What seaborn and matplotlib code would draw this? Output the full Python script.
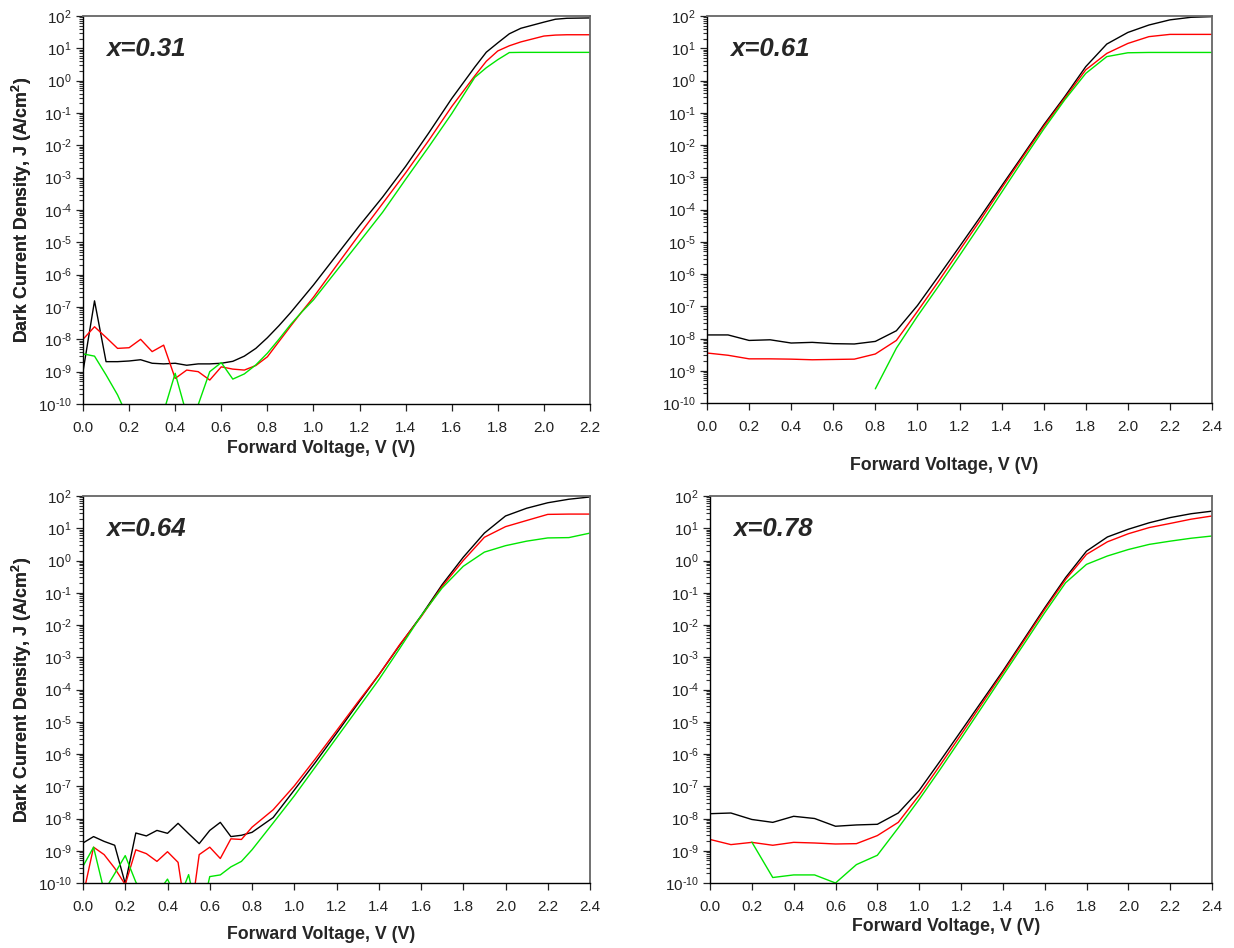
import numpy as np
import pandas as pd
import matplotlib
matplotlib.use("Agg")
import matplotlib.pyplot as plt
from matplotlib.ticker import LogLocator, NullFormatter, MultipleLocator, FormatStrFormatter, FuncFormatter
import seaborn as sns

# ---------------- data ----------------
# Panel x=0.31
V_031 = [0.00, 0.05, 0.10, 0.15, 0.20, 0.25, 0.30, 0.35, 0.40, 0.45, 0.50, 0.55, 0.60, 0.65,
         0.70, 0.75, 0.80, 0.85, 0.90, 0.95, 1.00, 1.10, 1.20, 1.30, 1.40, 1.50, 1.60, 1.70,
         1.75, 1.80, 1.85, 1.90, 2.00, 2.05, 2.10, 2.20]
J_031_black = [1.0e-9, 1.55e-7, 2.04e-9, 2.04e-9, 2.14e-9, 2.34e-9, 1.82e-9, 1.74e-9, 1.82e-9, 1.58e-9,
               1.74e-9, 1.74e-9, 1.82e-9, 2.09e-9, 3.02e-9, 5.25e-9, 1.12e-8, 2.63e-8, 6.61e-8, 1.78e-7,
               4.79e-7, 3.98e-6, 3.31e-5, 2.51e-4, 2.24e-3, 2.4e-2, 0.28, 2.63, 7.59, 14.8, 28.2, 41.7,
               64.6, 79.4, 85.1, 87.1]
J_031_red = [1.0e-8, 2.45e-8, 1.15e-8, 5.25e-9, 5.5e-9, 1.0e-8, 4.17e-9, 6.61e-9, 6.17e-10, 1.12e-9,
             1.0e-9, 5.5e-10, 1.41e-9, 1.2e-9, 1.12e-9, 1.55e-9, 2.88e-9, 8.51e-9, 2.51e-8, 7.24e-8,
             2.0e-7, 1.91e-6, 1.78e-5, 1.58e-4, 1.41e-3, 1.41e-2, 0.158, 1.41, 3.98, 8.32, 12.0, 15.8,
             24.0, 25.7, 26.3, 26.3]
J_031_green = [3.55e-9, 3.02e-9, 7.94e-10, 1.91e-10, 3.16e-11, 1.58e-11, 2.51e-11, 5.75e-11, 8.91e-10, 4.68e-11,
               9.55e-11, 1.0e-9, 1.91e-9, 5.89e-10, 8.51e-10, 1.62e-9, 3.72e-9, 1.0e-8, 2.82e-8, 7.08e-8,
               1.66e-7, 1.32e-6, 1.05e-5, 8.51e-5, 8.91e-4, 8.91e-3, 9.55e-2, 1.26, 2.51, 4.47, 7.41, 7.5,
               7.5, 7.5, 7.5, 7.5]

# Panel x=0.61
V_061 = [0.0, 0.1, 0.2, 0.3, 0.4, 0.5, 0.6, 0.7, 0.8, 0.9, 1.0, 1.1, 1.2, 1.3, 1.4, 1.5, 1.6,
         1.7, 1.8, 1.9, 2.0, 2.1, 2.2, 2.3, 2.4]
J_061_black = [1.29e-8, 1.29e-8, 8.71e-9, 9.12e-9, 7.24e-9, 7.59e-9, 6.92e-9, 6.76e-9, 8.13e-9, 1.74e-8,
               1.05e-7, 8.51e-7, 7.08e-6, 6.03e-5, 5.37e-4, 4.68e-3, 4.17e-2, 0.316, 2.69, 13.5, 30.9,
               52.5, 75.9, 91.2, 95.5]
J_061_red = [3.55e-9, 3.02e-9, 2.34e-9, 2.34e-9, 2.29e-9, 2.19e-9, 2.24e-9, 2.29e-9, 3.31e-9, 8.71e-9,
             6.92e-8, 5.89e-7, 5.37e-6, 4.79e-5, 4.57e-4, 4.17e-3, 3.72e-2, 0.282, 2.14, 6.92, 14.1,
             22.9, 26.9, 26.9, 26.9]
V_061_green = [0.8, 0.9, 1.0, 1.1, 1.2, 1.3, 1.4, 1.5, 1.6, 1.7, 1.8, 1.9, 2.0, 2.1, 2.2, 2.3, 2.4]
J_061_green = [2.75e-10, 5.01e-9, 4.9e-8, 4.17e-7, 3.72e-6, 3.47e-5, 3.39e-4, 3.31e-3, 3.09e-2, 0.251,
               1.66, 5.5, 7.24, 7.41, 7.41, 7.41, 7.41]

# Panel x=0.64
V_064 = [0.00, 0.05, 0.10, 0.15, 0.20, 0.25, 0.30, 0.35, 0.40, 0.45, 0.50, 0.55, 0.60, 0.65,
         0.70, 0.75, 0.80, 0.9, 1.0, 1.1, 1.2, 1.3, 1.4, 1.5, 1.6, 1.7, 1.8, 1.9, 2.0, 2.1,
         2.2, 2.3, 2.4]
J_064_black = [1.74e-9, 2.75e-9, 1.95e-9, 1.48e-9, 9.55e-11, 3.55e-9, 2.88e-9, 4.27e-9, 3.47e-9, 7.08e-9,
               3.39e-9, 1.66e-9, 4.27e-9, 7.59e-9, 2.75e-9, 3.02e-9, 3.72e-9, 1.07e-8, 7.59e-8, 5.5e-7,
               4.37e-6, 3.55e-5, 2.82e-4, 2.4e-3, 1.91e-2, 0.178, 1.26, 7.08, 24.0, 41.7, 61.7, 79.4, 93.3]
J_064_red = [3.98e-11, 1.29e-9, 7.59e-10, 2.88e-10, 8.91e-11, 1.07e-9, 8.13e-10, 4.68e-10, 9.33e-10, 4.37e-10,
             3.16e-12, 7.59e-10, 1.29e-9, 5.75e-10, 2.34e-9, 2.24e-9, 5.37e-9, 1.86e-8, 1.02e-7, 7.08e-7,
             5.25e-6, 3.98e-5, 2.82e-4, 2.51e-3, 1.78e-2, 0.158, 1.0, 5.25, 11.2, 17.4, 26.9, 27.5, 27.5]
J_064_green = [3.31e-10, 1.29e-9, 5.62e-11, 1.95e-10, 7.08e-10, 1.07e-10, 3.16e-11, 4.57e-11, 1.32e-10, 2.63e-11,
               1.82e-10, 5.37e-12, 1.58e-10, 1.78e-10, 3.16e-10, 4.68e-10, 1.07e-9, 7.24e-9, 5.01e-8, 3.98e-7,
               3.16e-6, 2.51e-5, 2.0e-4, 1.91e-3, 1.91e-2, 0.141, 0.661, 1.82, 2.88, 3.98, 5.01, 5.13, 7.08]

# Panel x=0.78
V_078 = [0.0, 0.1, 0.2, 0.3, 0.4, 0.5, 0.6, 0.7, 0.8, 0.9, 1.0, 1.1, 1.2, 1.3, 1.4, 1.5, 1.6,
         1.7, 1.8, 1.9, 2.0, 2.1, 2.2, 2.3, 2.4]
J_078_black = [1.41e-8, 1.48e-8, 9.33e-9, 7.59e-9, 1.17e-8, 1.0e-8, 5.75e-9, 6.31e-9, 6.61e-9, 1.48e-8,
               7.41e-8, 6.03e-7, 5.13e-6, 4.37e-5, 3.72e-4, 3.55e-3, 3.39e-2, 0.295, 1.95, 5.37, 9.33,
               14.8, 21.4, 28.2, 33.9]
J_078_red = [2.24e-9, 1.55e-9, 1.82e-9, 1.48e-9, 1.82e-9, 1.74e-9, 1.62e-9, 1.66e-9, 2.95e-9, 7.59e-9,
             5.25e-8, 4.47e-7, 3.98e-6, 3.63e-5, 3.31e-4, 3.16e-3, 3.02e-2, 0.257, 1.55, 3.8, 6.76,
             10.5, 14.1, 19.1, 24.0]
V_078_green = [0.2, 0.3, 0.4, 0.5, 0.6, 0.7, 0.8, 0.9, 1.0, 1.1, 1.2, 1.3, 1.4, 1.5, 1.6, 1.7, 1.8,
               1.9, 2.0, 2.1, 2.2, 2.3, 2.4]
J_078_green = [1.86e-9, 1.48e-10, 1.78e-10, 1.78e-10, 1.0e-10, 3.72e-10, 7.24e-10, 5.13e-9, 3.89e-8,
               3.31e-7, 3.02e-6, 2.82e-5, 2.69e-4, 2.51e-3, 2.4e-2, 0.204, 0.759, 1.38, 2.19, 3.16,
               3.98, 4.9, 5.75]

panel_labels = ["x=0.31", "x=0.61", "x=0.64", "x=0.78"]
x_max = [2.2, 2.4, 2.4, 2.4]
x_label = "Forward Voltage, V (V)"
y_label = r"Dark Current Density, J (A/cm$^{\mathbf{2}}$)"
series_colors = {"black": "#000000", "red": "#ff0000", "green": "#00e600"}

panels = [
    [(V_031, J_031_black, "black"), (V_031, J_031_red, "red"), (V_031, J_031_green, "green")],
    [(V_061, J_061_black, "black"), (V_061, J_061_red, "red"), (V_061_green, J_061_green, "green")],
    [(V_064, J_064_black, "black"), (V_064, J_064_red, "red"), (V_064, J_064_green, "green")],
    [(V_078, J_078_black, "black"), (V_078, J_078_red, "red"), (V_078_green, J_078_green, "green")],
]

# ---------------- style ----------------
sns.set_theme(style="ticks")
plt.rcParams["font.family"] = ["Liberation Sans", "DejaVu Sans"]
plt.rcParams["mathtext.fontset"] = "custom"
plt.rcParams["mathtext.rm"] = "Liberation Sans"
plt.rcParams["mathtext.it"] = "Liberation Sans:italic"
plt.rcParams["mathtext.bf"] = "Liberation Sans:bold"


def log_label(val, pos):
    e = int(round(np.log10(val)))
    if e < 0:
        return r"10$^{\text{-}%d}$" % (-e)
    return r"10$^{%d}$" % e


fig = plt.figure(figsize=(12.34, 9.48), dpi=100)
W, H = 1234.0, 948.0
# (left, top, right, bottom) in pixels
boxes = [(83, 16, 590, 404), (707, 16, 1212, 403), (83, 496, 590, 883), (710, 496, 1212, 883)]
xlabel_top_px = [440, 457, 926, 918]

for i, (box, series) in enumerate(zip(boxes, panels)):
    l, t, r, b = box
    ax = fig.add_axes([l / W, 1 - b / H, (r - l) / W, (b - t) / H])
    rows = []
    for V, J, name in series:
        for v, j in zip(V, J):
            rows.append({"V": v, "J": j, "series": name})
    df = pd.DataFrame(rows)
    sns.lineplot(data=df, x="V", y="J", hue="series", palette=series_colors,
                 estimator=None, sort=False, linewidth=1.0, ax=ax, legend=False)
    ax.set_yscale("log")
    ax.set_ylim(1e-10, 1e2)
    ax.set_xlim(0, x_max[i])
    ax.yaxis.set_major_locator(LogLocator(base=10, numticks=20))
    ax.yaxis.set_major_formatter(FuncFormatter(log_label))
    ax.yaxis.set_minor_locator(LogLocator(base=10, subs=np.arange(2, 10), numticks=20))
    ax.yaxis.set_minor_formatter(NullFormatter())
    ax.xaxis.set_major_locator(MultipleLocator(0.2))
    ax.xaxis.set_major_formatter(FormatStrFormatter("%.1f"))
    ax.tick_params(axis="x", which="major", direction="out", length=5, width=0.9,
                   labelsize=11, colors="#222222", pad=7)
    ax.tick_params(axis="y", which="major", direction="out", length=5, width=0.9,
                   labelsize=11, colors="#222222", pad=3)
    ax.tick_params(axis="y", which="minor", direction="out", length=3, width=0.8, colors="#333333")
    ax.tick_params(top=False, right=False, which="both")
    for s in ["left", "bottom"]:
        ax.spines[s].set_color("#000000")
        ax.spines[s].set_linewidth(1.0)
    for s in ["top", "right"]:
        ax.spines[s].set_visible(True)
        ax.spines[s].set_color("#666666")
        ax.spines[s].set_linewidth(1.3)
    ax.set_xlabel(x_label, fontsize=12.8, fontweight="bold")
    ax.set_ylabel(y_label, fontsize=12.8, fontweight="bold")
    ax.yaxis.set_label_coords((34 - l) / (r - l), 0.5)
    ax.xaxis.set_label_coords(0.47, -(xlabel_top_px[i] - b) / (b - t))
    ax.text(0.046, 0.945, panel_labels[i], transform=ax.transAxes, fontsize=18.5,
            fontweight="bold", fontstyle="italic", va="top", ha="left")

fig.savefig("out.png", dpi=100)
